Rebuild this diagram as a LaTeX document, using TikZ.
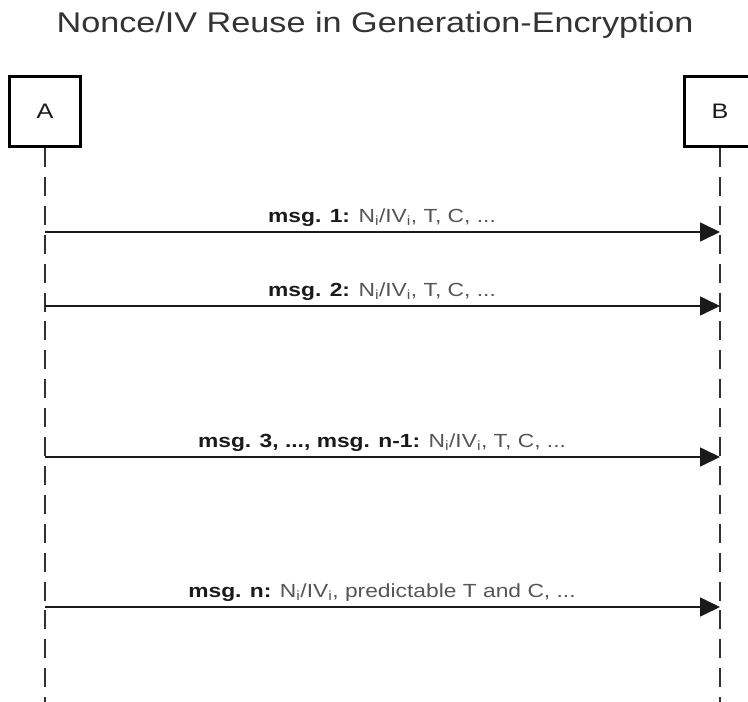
\documentclass[tikz,border=0pt]{standalone}
\usepackage{fontspec}
\setmainfont[FakeStretch=1.2]{Liberation Sans}
\usetikzlibrary{arrows.meta}
\definecolor{inkdark}{HTML}{1A1A1A}
\definecolor{txtgray}{HTML}{555555}
\definecolor{titlegray}{HTML}{333333}
\tikzset{
  actor/.style={draw=black, line width=3pt, minimum width=71pt, minimum height=70pt,
    inner sep=0pt, font=\fontsize{21}{24}\selectfont, text=inkdark},
  lifeline/.style={draw=inkdark!90, line width=1.8pt, dash pattern=on 19pt off 9.9pt},
  msgarrow/.style={draw=inkdark, line width=1.7pt,
    -{Triangle[length=20pt, width=19pt]}},
  msglabel/.style={font=\fontsize{19}{22}\selectfont, text=txtgray, anchor=base, inner sep=0pt},
  titlestyle/.style={font=\fontsize{28.5}{32}\selectfont, text=titlegray, anchor=base, inner sep=0pt}
}
\newcommand{\bmsg}[1]{\textbf{\color{inkdark}#1}}
\newcommand{\subi}{\textsubscript{i}}
\begin{document}
\begin{tikzpicture}[x=1pt, y=-1pt]
  \useasboundingbox (0,0) rectangle (748,702);
  \clip (0,0) rectangle (748,702);

  % title
  \node[titlestyle] (title) at (375,32) {Nonce/IV Reuse in Generation-Encryption};

  % participants
  \node[actor] (A) at (45,111.5) {A};
  \node[actor] (B) at (720,111.5) {B};

  % lifelines
  \coordinate (Aend) at (45,712);
  \coordinate (Bend) at (720,712);
  \draw[lifeline] (A.south) -- (Aend);
  \draw[lifeline] (B.south) -- (Bend);

  % messages
  \foreach \y/\n in {232/m1, 306/m2, 457/m3, 607/mn} {
    \coordinate (\n a) at (45,\y);
    \coordinate (\n b) at (720,\y);
    \draw[msgarrow] (\n a) -- (\n b);
  }

  \node[msglabel] (l1) at (382,222) {\bmsg{msg. 1:} N\subi/IV\subi, T, C, ...};
  \node[msglabel] (l2) at (382,296) {\bmsg{msg. 2:} N\subi/IV\subi, T, C, ...};
  \node[msglabel] (l3) at (382,447) {\bmsg{msg. 3, ..., msg. n-1:} N\subi/IV\subi, T, C, ...};
  \node[msglabel] (ln) at (382,597) {\bmsg{msg. n:} N\subi/IV\subi, predictable T and C, ...};
\end{tikzpicture}
\end{document}
